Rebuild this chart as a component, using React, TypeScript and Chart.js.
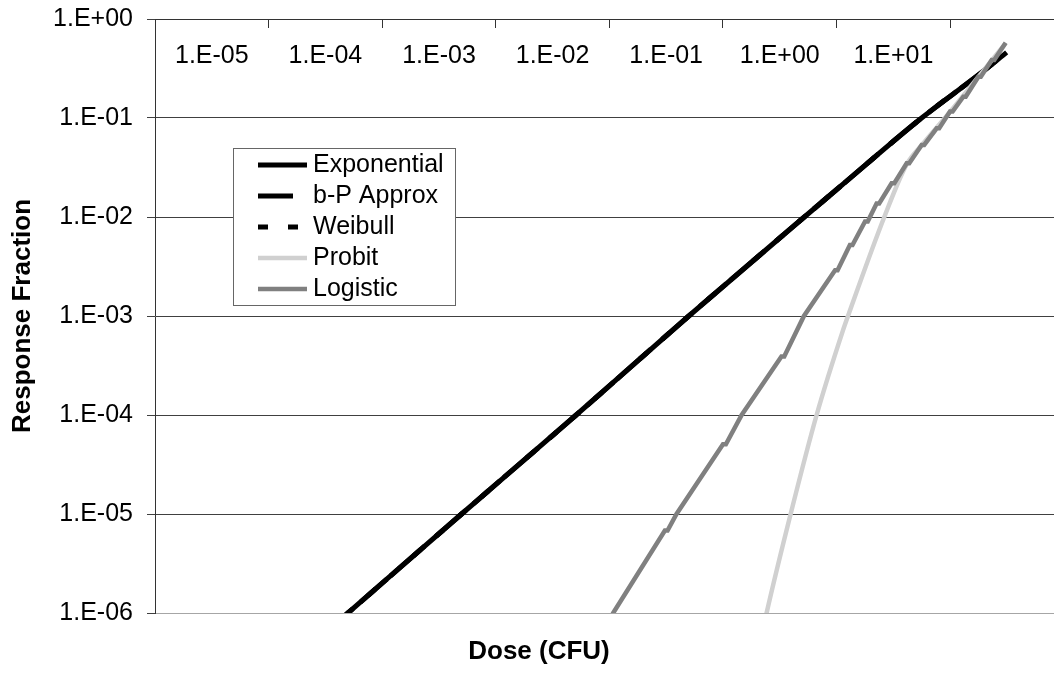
import React, { useEffect, useRef } from 'react';
import { Chart, registerables } from 'chart.js';

Chart.register(...registerables);

const FONT = "'Liberation Sans', Arial, Helvetica, sans-serif";

// Axis ticks
const xTickValues = [1e-5, 1e-4, 1e-3, 1e-2, 1e-1, 1e0, 1e1, 1e2];
const xTickLabels = ['1.E-05', '1.E-04', '1.E-03', '1.E-02', '1.E-01', '1.E+00', '1.E+01', ''];
const yTickValues = [1e-6, 1e-5, 1e-4, 1e-3, 1e-2, 1e-1, 1e0];
const yTickLabels = ['1.E-06', '1.E-05', '1.E-04', '1.E-03', '1.E-02', '1.E-01', '1.E+00'];

const seriesNames = ['Exponential', 'b-P Approx', 'Weibull', 'Probit', 'Logistic'];

// Series (dose in CFU, response fraction)
const expDose = [3e-4, 5e-4, 5e-3, 5.1e-2, 0.5, 5.2, 10.7, 56, 177, 314];
const expResp = [6e-7, 1e-6, 1e-5, 1e-4, 1e-3, 1e-2, 2.02e-2, 0.1, 0.272, 0.46];

const bpDose = [3e-4, 5e-4, 5e-3, 5.1e-2, 0.5, 5.2, 10.7, 56, 177, 314];
const bpResp = [6e-7, 1e-6, 1e-5, 1e-4, 1e-3, 1e-2, 2.02e-2, 0.1, 0.272, 0.46];

const weibullDose = [3e-4, 5e-4, 5e-3, 5.1e-2, 0.5, 5.2, 10.7, 56, 177, 314];
const weibullResp = [6e-7, 1e-6, 1e-5, 1e-4, 1e-3, 1e-2, 2.02e-2, 0.1, 0.272, 0.46];

const probitDose = [2.2, 2.42, 3.94, 6.67, 11.4, 12.6, 26.3, 41.4, 56, 99.6, 177, 308];
const probitResp = [6e-7, 1e-6, 1e-5, 1e-4, 7.2e-4, 1e-3, 1e-2, 0.034, 0.053, 0.115, 0.26, 0.57];

// Logistic curve has small stair-steps; pairs share one response value
const logisticDose = [
  0.09, 0.108, 0.308, 0.325, 0.39, 1.0, 1.06, 1.46, 3.27, 3.46, 5.16, 9.7, 10.2,
  13.1, 13.8, 17.8, 18.8, 22.5, 23.7, 30.5, 32.2, 41.4, 43.6, 56.1, 59, 76, 80,
  99.6, 105, 130.5, 137, 177, 186, 232, 244, 308,
];
const logisticResp = [
  7e-7, 1e-6, 6.8e-6, 6.8e-6, 1e-5, 5.06e-5, 5.06e-5, 1e-4, 3.9e-4, 3.9e-4, 1e-3, 2.9e-3, 2.9e-3,
  5.2e-3, 5.2e-3, 9e-3, 9e-3, 1.37e-2, 1.37e-2, 2.19e-2, 2.19e-2, 3.49e-2, 3.49e-2, 5.34e-2, 5.34e-2, 7.87e-2, 7.87e-2,
  0.116, 0.116, 0.164, 0.164, 0.261, 0.261, 0.385, 0.385, 0.576,
];

const toPoints = (xs: number[], ys: number[]) => xs.map((x, i) => ({ x, y: ys[i] }));

const boxLegend = {
  id: 'boxLegend',
  afterDraw(chart: any, _args: any, opts: any) {
    const { ctx } = chart;
    const { x, y, w, h, firstRow, rowStep, sampleX, sampleW, textX, font } = opts;
    ctx.save();
    ctx.fillStyle = '#ffffff';
    ctx.fillRect(x, y, w, h);
    ctx.strokeStyle = '#666666';
    ctx.lineWidth = 1;
    ctx.strokeRect(x + 0.5, y + 0.5, w, h);
    chart.data.datasets.forEach((ds: any, i: number) => {
      const cy = y + firstRow + i * rowStep;
      ctx.beginPath();
      ctx.setLineDash(ds.borderDash || []);
      ctx.strokeStyle = ds.borderColor;
      ctx.lineWidth = ds.borderWidth;
      ctx.moveTo(sampleX, cy);
      ctx.lineTo(sampleX + sampleW, cy);
      ctx.stroke();
      ctx.setLineDash([]);
      ctx.fillStyle = '#000000';
      ctx.font = font;
      ctx.textBaseline = 'middle';
      ctx.textAlign = 'left';
      ctx.fillText(ds.label, textX, cy);
    });
    ctx.restore();
  },
};

export default function App() {
  const canvasRef = useRef<HTMLCanvasElement | null>(null);

  useEffect(() => {
    if (!canvasRef.current) return;
    const common = { pointRadius: 0, fill: false, cubicInterpolationMode: 'monotone' as const, clip: 0 };
    const chart = new Chart(canvasRef.current, {
      type: 'line',
      data: {
        datasets: [
          { ...common, label: seriesNames[0], data: toPoints(expDose, expResp), borderColor: '#000000', borderWidth: 5, borderDash: [], order: 4 },
          { ...common, label: seriesNames[1], data: toPoints(bpDose, bpResp), borderColor: '#000000', borderWidth: 5, borderDash: [35, 15], order: 3 },
          { ...common, label: seriesNames[2], data: toPoints(weibullDose, weibullResp), borderColor: '#000000', borderWidth: 5, borderDash: [10, 20], order: 2 },
          { ...common, label: seriesNames[3], data: toPoints(probitDose, probitResp), borderColor: '#d0d0d0', borderWidth: 4.5, borderDash: [], order: 1 },
          { ...common, cubicInterpolationMode: 'default', tension: 0, label: seriesNames[4], data: toPoints(logisticDose, logisticResp), borderColor: '#808080', borderWidth: 4.5, borderDash: [], order: 0 },
        ] as any,
      },
      options: {
        animation: false,
        responsive: false,
        maintainAspectRatio: false,
        layout: { padding: { top: 19, left: 24, right: 0, bottom: 0 } },
        plugins: {
          legend: { display: false },
          tooltip: { enabled: false },
          title: {
            display: true,
            position: 'bottom',
            text: 'Dose (CFU)',
            color: '#000000',
            font: { family: FONT, size: 26, weight: 'bold' },
            padding: { top: 23.4, bottom: 5.4 },
          },
          boxLegend: {
            x: 233, y: 148, w: 222, h: 157,
            firstRow: 17, rowStep: 31,
            sampleX: 258, sampleW: 49, textX: 313,
            font: `25px ${FONT}`,
          },
        } as any,
        scales: {
          x: {
            type: 'logarithmic',
            position: { y: 1 } as any,
            min: 1e-5,
            max: 820,
            afterBuildTicks: (s: any) => { s.ticks = xTickValues.map((v) => ({ value: v })); },
            ticks: {
              autoSkip: false,
              maxRotation: 0,
              minRotation: 0,
              labelOffset: 56.8,
              padding: 14,
              color: '#000000',
              font: { family: FONT, size: 25 },
              callback: (_v: any, i: number) => xTickLabels[i] ?? '',
            },
            grid: { display: true, drawOnChartArea: false, drawTicks: true, tickLength: 8, color: '#333333' },
            border: { display: true, color: '#333333', width: 1 },
          },
          y: {
            type: 'logarithmic',
            position: 'left',
            min: 1e-6,
            max: 1,
            afterBuildTicks: (s: any) => { s.ticks = yTickValues.map((v) => ({ value: v })); },
            afterFit: (s: any) => { s.width = 131; s.paddingTop = 0; s.paddingBottom = 0; },
            ticks: {
              padding: 14,
              color: '#000000',
              font: { family: FONT, size: 25 },
              callback: (_v: any, i: number) => yTickLabels[i] ?? '',
            },
            grid: {
              color: (c: any) => (c.tick && c.tick.value <= 1e-6 ? '#a6a6a6' : '#404040'),
              tickColor: '#404040',
              tickLength: 8,
              lineWidth: 1,
            },
            border: { display: true, color: '#333333', width: 1 },
            title: {
              display: true,
              text: 'Response Fraction',
              color: '#000000',
              font: { family: FONT, size: 26, weight: 'bold' },
              padding: { top: -17.1, bottom: 0 },
            },
          },
        } as any,
      },
      plugins: [boxLegend as any],
    });
    return () => chart.destroy();
  }, []);

  return (
    <div style={{ position: 'absolute', left: 0, top: 0, width: 1054, height: 673, background: '#ffffff' }}>
      <canvas ref={canvasRef} width={1054} height={673} style={{ display: 'block', width: 1054, height: 673 }} />
    </div>
  );
}
